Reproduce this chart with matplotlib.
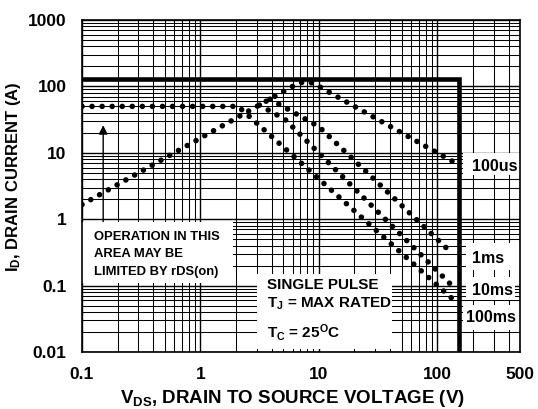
import matplotlib
matplotlib.use("Agg")
import matplotlib.pyplot as plt
from matplotlib.patches import Rectangle
from matplotlib.ticker import FixedLocator, LogLocator, NullFormatter

plt.rcParams['font.family'] = ['Liberation Sans', 'DejaVu Sans']
plt.rcParams['font.weight'] = 'bold'
plt.rcParams['mathtext.fontset'] = 'custom'
plt.rcParams['mathtext.rm'] = 'Liberation Sans:bold'
plt.rcParams['mathtext.bf'] = 'Liberation Sans:bold'
plt.rcParams['mathtext.it'] = 'Liberation Sans:bold'
plt.rcParams['mathtext.default'] = 'bf'

# ------------------------------------------------------------
# data
# ------------------------------------------------------------
x_ticks = [0.1, 1, 10, 100, 500]
x_tick_labels = ["0.1", "1", "10", "100", "500"]
y_ticks = [0.01, 0.1, 1, 10, 100, 1000]
y_tick_labels = ["0.01", "0.1", "1", "10", "100", "1000"]

# thick boundary: max current and breakdown voltage
limit_v = [0.1, 153, 153]
limit_i = [130, 130, 0.01]

# pulse curves (corner points)
us100_v = [0.1, 6.6, 7.6, 8.6, 10, 145]
us100_i = [1.66, 110, 118, 114, 100, 6.9]
ms1_v = [3.87, 10.0, 135]
ms1_i = [64.2, 24.8, 0.30]
ms10_v = [3.15, 5.2, 144]
ms10_i = [52.3, 31.7, 0.087]
ms100_v = [0.1, 2.08, 150]
ms100_i = [50, 50, 0.053]

curve_labels = ["100us", "1ms", "10ms", "100ms"]

# rDS(on) arrow
arrow_v = 0.151
arrow_i = [0.92, 26]

# ------------------------------------------------------------
# figure
# ------------------------------------------------------------
fig = plt.figure(figsize=(5.38, 4.09), dpi=100)
ax = fig.add_axes([0.1524, 0.1394, 0.8141, 0.8117])
ax.set_xscale("log")
ax.set_yscale("log")
ax.set_xlim(0.1, 500)
ax.set_ylim(0.01, 1000)

ax.xaxis.set_major_locator(FixedLocator(x_ticks))
ax.yaxis.set_major_locator(FixedLocator(y_ticks))
ax.set_xticklabels(x_tick_labels, fontsize=12.5, fontweight='bold')
ax.set_yticklabels(y_tick_labels, fontsize=12.5, fontweight='bold')
for axis in (ax.xaxis, ax.yaxis):
    axis.set_minor_locator(LogLocator(base=10, subs=range(2, 10), numticks=20))
    axis.set_minor_formatter(NullFormatter())
ax.tick_params(which='both', length=0, pad=11)

ax.grid(True, which='major', color='black', lw=1.0)
ax.grid(True, which='minor', color='black', lw=0.75)
for s in ax.spines.values():
    s.set_linewidth(1.2)
    s.set_zorder(6)

# thick limit line
ax.plot(limit_v, limit_i, color='black', lw=3.3, solid_joinstyle='miter',
        solid_capstyle='butt', zorder=4)

# dotted pulse curves
dot = dict(color='black', lw=4.0, ls=(0, (0.01, 1.8)), dash_capstyle='round',
           zorder=4)
ax.plot(us100_v, us100_i, **dot)
ax.plot(ms1_v, ms1_i, **dot)
ax.plot(ms10_v, ms10_i, **dot)
ax.plot(ms100_v, ms100_i, **dot)

# white label boxes (axes fraction)
boxes = [
    (0.0, 0.345, 0.208, 0.392),     # rDS(on) note
    (0.400, 0.707, 0.009, 0.235),   # single pulse note
    (0.8705, 1.0, 0.533, 0.600),    # 100us
    (0.877, 1.0, 0.247, 0.328),     # 1ms
    (0.877, 0.9886, 0.157, 0.226),  # 10ms
    (0.870, 1.0, 0.066, 0.1416),    # 100ms
]
for x0, x1, y0, y1 in boxes:
    ax.add_patch(Rectangle((x0, y0), x1 - x0, y1 - y0, transform=ax.transAxes,
                           facecolor='white', edgecolor='none', zorder=3))

# arrow
ax.annotate("", xy=(arrow_v, arrow_i[1]), xytext=(arrow_v, arrow_i[0]),
            arrowprops=dict(arrowstyle='-|>', color='black', lw=1.0,
                            mutation_scale=13, shrinkA=0, shrinkB=0),
            zorder=5)

# notes
note1 = ["OPERATION IN THIS", "AREA MAY BE", "LIMITED BY rDS(on)"]
for txt, fy in zip(note1, [0.3373, 0.2852, 0.2310]):
    ax.text(0.028, fy, txt, transform=ax.transAxes, fontsize=9.4,
            fontweight='bold', va='baseline', ha='left', zorder=5)

note2 = ["SINGLE PULSE", r"T$_{J}$ = MAX RATED", r"T$_{C}$ = 25$^{O}$C"]
for txt, fy in zip(note2, [0.1892, 0.1331, 0.0446]):
    ax.text(0.423, fy, txt, transform=ax.transAxes, fontsize=11,
            fontweight='bold', va='baseline', ha='left', zorder=5)

label_pos = [(0.943, 0.5581), (0.9276, 0.2801), (0.938, 0.1861), (0.9345, 0.103)]
for txt, (fx, fy) in zip(curve_labels, label_pos):
    ax.text(fx, fy, txt, transform=ax.transAxes, fontsize=11.5,
            fontweight='bold', va='center', ha='center', zorder=5)

# axis titles
ax.text(0.48, -0.1416, r"V$_{DS}$, DRAIN TO SOURCE VOLTAGE (V)",
        transform=ax.transAxes, fontsize=13.5, fontweight='bold',
        ha='center', va='center')
ax.text(-0.156, 0.527, r"I$_{D}$, DRAIN CURRENT (A)",
        transform=ax.transAxes, fontsize=12, fontweight='bold',
        ha='center', va='center', rotation=90)

fig.savefig("out.png", dpi=100)
